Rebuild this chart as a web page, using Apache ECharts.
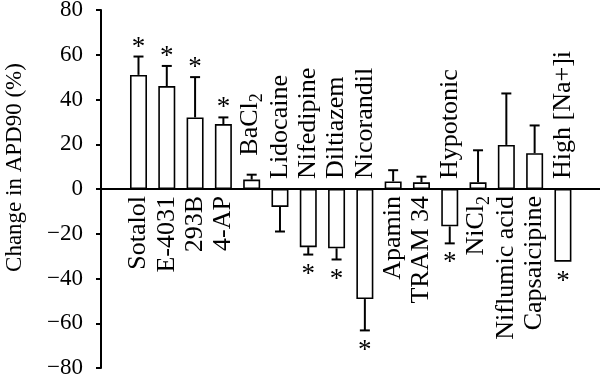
<!DOCTYPE html>
<html>
<head>
<meta charset="utf-8">
<script src="https://cdn.jsdelivr.net/npm/echarts@6/dist/echarts.min.js"></script>
<style>
	html, body { margin: 0; padding: 0; background: #fff; }
	#chart { width: 600px; height: 377px; }
</style>
</head>
<body>
<div id="chart"></div>
<script>
// data
var categories = [
	"Sotalol", "E-4031", "293B", "4-AP", "BaCl\u2082", "Lidocaine", "Nifedipine",
	"Diltiazem", "Nicorandil", "Apamin", "TRAM 34", "Hypotonic", "NiCl\u2082",
	"Niflumic acid", "Capsaicipine", "High [Na+]i"
]
var values = [51, 46, 32, 29, 4.2, -8, -26, -26.5, -49.2, 3.4, 3, -16.7, 3, 19.7, 16, -32.5]
var errors = [8.2, 9, 18, 3, 2.2, 11, 3.3, 5, 14, 5, 2.5, 7.6, 14.3, 23, 12.4, 0]
var significant = [1, 1, 1, 1, 0, 0, 1, 1, 1, 0, 0, 1, 0, 0, 0, 1]
var yTickLabels = [-80, -60, -40, -20, 0, 20, 40, 60, 80]

var FONT = "Liberation Serif"
// positive bars whose name sits above the bar instead of under the axis
var liftedLabels = ["BaCl\u2082"]

// "BaCl₂" -> rich text with a real subscript
function labelText(name) {
	return name.replace(/^(.*)\u2082$/, "{m|$1}{b|2}")
}

function renderMarks(params, api) {
	var i = api.value(0)
	var v = api.value(1)
	var e = api.value(2)
	var sig = api.value(3)
	var dir = v < 0 ? -1 : 1
	var zero = api.coord([i, 0])
	var base = api.coord([i, v])
	var end = api.coord([i, v + dir * e])
	var x = zero[0]
	var black = { stroke: "#000", lineWidth: 2 }
	var children = []

	if (e > 0) {
		children.push({ type: "line", shape: { x1: x, y1: base[1], x2: x, y2: end[1] }, style: black })
		children.push({ type: "line", shape: { x1: x - 5, y1: end[1], x2: x + 5, y2: end[1] }, style: black })
	}
	if (sig) {
		// the asterisk glyph sits high in its box, hence the uneven offsets
		children.push({
			type: "text",
			x: x,
			y: dir > 0 ? end[1] - 9 : end[1] + 20,
			style: { text: "*", fontSize: 27, fontFamily: FONT, fill: "#000", align: "center", verticalAlign: "middle" }
		})
	}

	var name = categories[params.dataIndex]
	var lifted = liftedLabels.indexOf(name) >= 0
	var label = { type: "text", x: x, rotation: Math.PI / 2 }
	var st = {
		text: labelText(name),
		fontSize: 26,
		fontFamily: FONT,
		fill: "#000",
		verticalAlign: "middle",
		rich: {
			m: { fontSize: 26, fontFamily: FONT, fill: "#000", verticalAlign: "top" },
			b: { fontSize: 18, fontFamily: FONT, fill: "#000", verticalAlign: "bottom", lineHeight: 30 }
		}
	}
	if (v < 0) {
		label.y = zero[1] - 10
		st.align = "left"
	} else if (lifted) {
		label.y = end[1] - 19
		st.align = "left"
	} else {
		label.y = zero[1] + 7
		st.align = "right"
	}
	label.style = st
	children.push(label)

	return { type: "group", children: children }
}

var chart = echarts.init(document.getElementById("chart"))
var option = {
	animation: false,
	grid: { left: 101, right: 0, top: 10, bottom: 9, outerBoundsMode: "none" },
	xAxis: {
		type: "value",
		min: -1.325,
		max: 16.31,
		axisLine: { show: true, onZero: true, lineStyle: { color: "#000", width: 2 } },
		axisTick: { show: false },
		axisLabel: { show: false },
		splitLine: { show: false }
	},
	yAxis: {
		type: "value",
		min: yTickLabels[0],
		max: yTickLabels[yTickLabels.length - 1],
		interval: yTickLabels[1] - yTickLabels[0],
		// leading blank token nudges the title up from the axis middle
		name: "{s| }{t|Change in APD90 (%)}",
		nameLocation: "middle",
		nameGap: 75,
		nameTextStyle: {
			rich: {
				t: { fontSize: 23, fontFamily: FONT, color: "#000" },
				s: { width: 43, fontSize: 23 }
			}
		},
		axisLine: { show: true, onZero: false, lineStyle: { color: "#000", width: 2 } },
		axisTick: { show: true, length: 5, lineStyle: { color: "#000", width: 2 } },
		axisLabel: {
			fontSize: 23,
			fontFamily: FONT,
			color: "#000",
			margin: 18,
			formatter: function(v) {
				return String(v).replace("-", "\u2212")
			}
		},
		splitLine: { show: false }
	},
	series: [
		{
			type: "bar",
			barWidth: 17,
			data: values.map(function(v, i) { return [i, v] }),
			itemStyle: { color: "#fff", borderColor: "#000", borderWidth: 1.6 }
		},
		{
			type: "custom",
			clip: false,
			z: 5,
			renderItem: renderMarks,
			data: values.map(function(v, i) { return [i, v, errors[i], significant[i]] })
		}
	]
}
chart.setOption(option)
</script>
</body>
</html>
